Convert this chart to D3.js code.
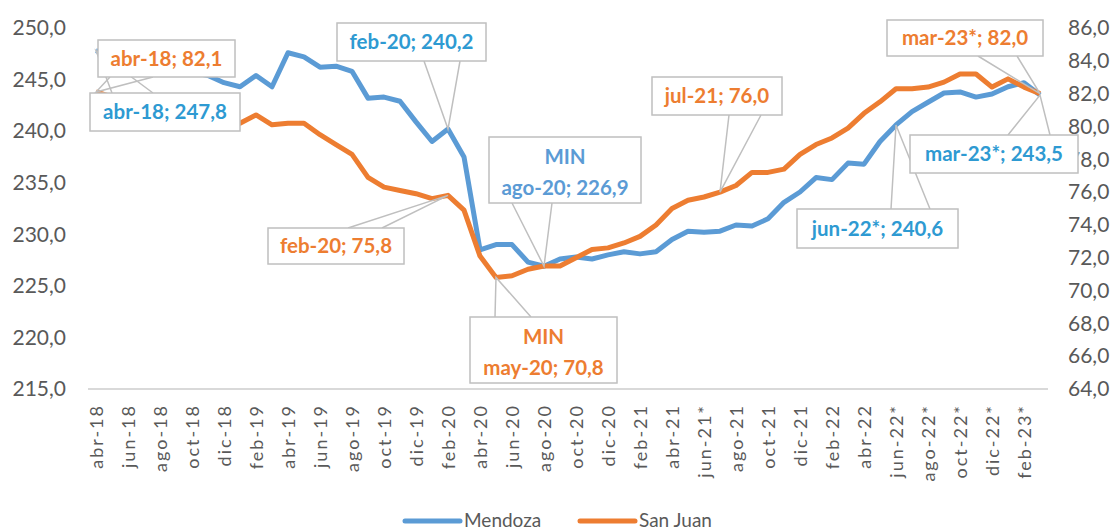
<!DOCTYPE html>
<html>
<head>
<meta charset="utf-8">
<script src="https://cdn.jsdelivr.net/npm/d3@7"></script>
<style>
  body { margin: 0; background: #fff; }
  svg { display: block; font-family: Lato, "Open Sans", sans-serif; }
</style>
</head>
<body>
<svg id="chart" width="1114" height="532"></svg>
<script>
let months = ['abr-18','may-18','jun-18','jul-18','ago-18','sep-18','oct-18','nov-18','dic-18','ene-19','feb-19','mar-19',
  'abr-19','may-19','jun-19','jul-19','ago-19','sep-19','oct-19','nov-19','dic-19','ene-20','feb-20','mar-20',
  'abr-20','may-20','jun-20','jul-20','ago-20','sep-20','oct-20','nov-20','dic-20','ene-21','feb-21','mar-21',
  'abr-21','may-21','jun-21*','jul-21','ago-21','sep-21','oct-21','nov-21','dic-21','ene-22','feb-22','mar-22',
  'abr-22','may-22','jun-22*','jul-22*','ago-22*','sep-22*','oct-22*','nov-22*','dic-22*','ene-23*','feb-23*','mar-23*'];

let mendoza = [247.8, 247.3, 246.9, 246.8, 246.2, 246.1, 245.7, 245.4, 244.7, 244.3, 245.4, 244.3,
  247.6, 247.2, 246.2, 246.3, 245.8, 243.2, 243.3, 242.9, 240.9, 239.0, 240.2, 237.5,
  228.5, 229.0, 229.0, 227.3, 226.9, 227.6, 227.8, 227.6, 228.0, 228.3, 228.1, 228.3,
  229.5, 230.3, 230.2, 230.3, 230.9, 230.8, 231.5, 233.1, 234.1, 235.5, 235.3, 236.9,
  236.8, 239.0, 240.6, 241.9, 242.8, 243.7, 243.8, 243.3, 243.6, 244.3, 244.7, 243.5];

let sanJuan = [82.1, 81.8, 81.5, 81.4, 81.0, 80.9, 80.5, 80.6, 80.3, 80.2, 80.7, 80.1,
  80.2, 80.2, 79.5, 78.9, 78.3, 76.9, 76.3, 76.1, 75.9, 75.6, 75.8, 74.9,
  72.1, 70.8, 70.9, 71.3, 71.5, 71.5, 72.0, 72.5, 72.6, 72.9, 73.3, 74.0,
  75.0, 75.5, 75.7, 76.0, 76.4, 77.2, 77.2, 77.4, 78.3, 78.9, 79.3, 79.9,
  80.8, 81.5, 82.3, 82.3, 82.4, 82.7, 83.2, 83.2, 82.4, 82.9, 82.4, 82.0];

let leftTicks = [215, 220, 225, 230, 235, 240, 245, 250];
let rightTicks = [64, 66, 68, 70, 72, 74, 76, 78, 80, 82, 84, 86];
let seriesNames = ['Mendoza', 'San Juan'];

let blue = '#5b9bd5';
let orange = '#ed7d31';
let axisGray = '#595959';

let svg = d3.select('#chart');

let x = d3.scalePoint().domain(months).range([88, 1048]).padding(0.5);
let yL = d3.scaleLinear().domain([215, 250]).range([389, 28]);
let yR = d3.scaleLinear().domain([64, 86]).range([389, 28]);
let fmt = (v) => d3.format('.1f')(v).replace('.', ',');

// axes
let left = svg.append('g')
  .attr('transform', 'translate(88,0)')
  .call(d3.axisLeft(yL).tickValues(leftTicks).tickSize(0).tickPadding(22).tickFormat(fmt));
let right = svg.append('g')
  .attr('transform', 'translate(1048,0)')
  .call(d3.axisRight(yR).tickValues(rightTicks).tickSize(0).tickPadding(20).tickFormat(fmt));
[left, right].forEach((g) => {
  g.select('.domain').remove();
  g.selectAll('text').attr('font-size', 21).attr('fill', axisGray).attr('font-family', 'Lato');
});

let bottom = svg.append('g')
  .attr('transform', 'translate(0,389)')
  .call(d3.axisBottom(x).tickValues(months.filter((d, i) => i % 2 == 0)).tickSize(0));
bottom.select('.domain').remove();
bottom.selectAll('text')
  .attr('transform', 'rotate(-90)')
  .attr('x', -15)
  .attr('y', 0)
  .attr('dy', '0.35em')
  .attr('text-anchor', 'end')
  .attr('font-size', 18)
  .attr('letter-spacing', 2)
  .attr('fill', axisGray)
  .attr('font-family', 'Lato');

svg.append('line')
  .attr('x1', 88).attr('x2', 1048)
  .attr('y1', yL(215)).attr('y2', yL(215))
  .attr('stroke', '#d9d9d9').attr('stroke-width', 2);

// series
let lineL = d3.line().x((d, i) => x(months[i])).y((d) => yL(d));
let lineR = d3.line().x((d, i) => x(months[i])).y((d) => yR(d));

svg.append('path').datum(mendoza)
  .attr('d', lineL).attr('fill', 'none')
  .attr('stroke', blue).attr('stroke-width', 5).attr('stroke-linejoin', 'round');
svg.append('path').datum(sanJuan)
  .attr('d', lineR).attr('fill', 'none')
  .attr('stroke', orange).attr('stroke-width', 5).attr('stroke-linejoin', 'round');

// data callouts: box = [x, y, w, h], anchors on box edge
let callouts = [
  { s: 'm', i: 0, box: [90, 93, 150, 38], anchors: [[112, 93], [153, 93]] },
  { s: 'sj', i: 0, box: [98, 40, 137, 37], anchors: [[110, 77], [153, 77]] },
  { s: 'm', i: 22, box: [337, 23, 149, 38], anchors: [[424, 61], [460, 61]] },
  { s: 'sj', i: 22, box: [268, 228, 136, 36], anchors: [[348, 228], [382, 228]] },
  { s: 'm', i: 28, min: true, box: [489, 137, 152, 66], anchors: [[512, 203], [552, 203]] },
  { s: 'sj', i: 25, min: true, box: [470, 317, 147, 66], anchors: [[495, 317], [531, 317]] },
  { s: 'sj', i: 39, box: [652, 77, 130, 38], anchors: [[729, 115], [761, 115]] },
  { s: 'm', i: 50, box: [797, 209, 161, 39], anchors: [[891, 209], [930, 209]] },
  { s: 'sj', i: 59, box: [887, 20, 156, 36], anchors: [[978, 56], [1017, 56]] },
  { s: 'm', i: 59, box: [910, 135, 168, 38], anchors: [[1008, 135], [1050, 135]] }
];

let pointOf = (c) => {
  let v = c.s == 'm' ? mendoza[c.i] : sanJuan[c.i];
  return [x(months[c.i]), c.s == 'm' ? yL(v) : yR(v)];
};

callouts.forEach((c) => {
  let p = pointOf(c);
  svg.append('path')
    .attr('d', `M${c.anchors[0][0]},${c.anchors[0][1]}L${p[0]},${p[1]}L${c.anchors[1][0]},${c.anchors[1][1]}`)
    .attr('fill', 'none').attr('stroke', '#bfbfbf').attr('stroke-width', 1.5);
});

callouts.forEach((c) => {
  let v = c.s == 'm' ? mendoza[c.i] : sanJuan[c.i];
  let color = c.s == 'm' ? (c.min ? blue : '#2e9ad2') : orange;
  let [bx, by, bw, bh] = c.box;
  let g = svg.append('g');
  g.append('rect')
    .attr('x', bx).attr('y', by).attr('width', bw).attr('height', bh)
    .attr('fill', '#fff').attr('stroke', '#bfbfbf').attr('stroke-width', 1.5);
  let label = `${months[c.i]}; ${fmt(v)}`;
  let rows = c.min ? ['MIN', label] : [label];
  rows.forEach((r, k) => {
    let cy = c.min ? by + 20 + k * 31 : by + bh / 2;
    g.append('text')
      .attr('x', bx + bw / 2).attr('y', cy).attr('dy', '0.36em')
      .attr('text-anchor', 'middle')
      .attr('font-size', 20.5).attr('font-weight', 'bold')
      .attr('fill', color)
      .text(r);
  });
});

// legend
let legend = [
  { name: seriesNames[0], color: blue, x: 405 },
  { name: seriesNames[1], color: orange, x: 580 }
];
legend.forEach((l) => {
  svg.append('line')
    .attr('x1', l.x).attr('x2', l.x + 55)
    .attr('y1', 521).attr('y2', 521)
    .attr('stroke', l.color).attr('stroke-width', 5).attr('stroke-linecap', 'round');
  svg.append('text')
    .attr('x', l.x + 59).attr('y', 521).attr('dy', '0.34em')
    .attr('font-size', 19).attr('fill', axisGray)
    .text(l.name);
});
</script>
</body>
</html>
